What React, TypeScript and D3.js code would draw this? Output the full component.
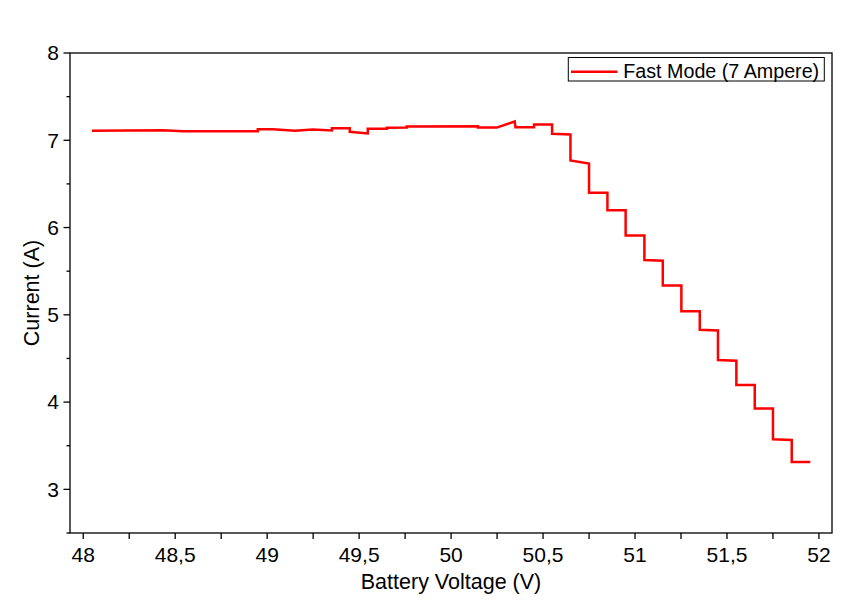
import React from "react";
import * as d3 from "d3";

const voltage = [
  48.047, 48.433, 48.542, 48.949, 48.949, 49.031, 49.151, 49.248, 49.352, 49.352,
  49.449, 49.449, 49.547, 49.547, 49.651, 49.651, 49.759, 49.759, 50.145, 50.145,
  50.248, 50.346, 50.350, 50.451, 50.451, 50.549, 50.549, 50.649, 50.649, 50.750,
  50.750, 50.850, 50.850, 50.949, 50.949, 51.051, 51.051, 51.151, 51.151, 51.252,
  51.252, 51.352, 51.352, 51.451, 51.451, 51.551, 51.551, 51.651, 51.651, 51.750,
  51.750, 51.852, 51.852, 51.953,
];
const current = [
  7.109, 7.116, 7.104, 7.104, 7.127, 7.127, 7.109, 7.124, 7.112, 7.139,
  7.139, 7.097, 7.078, 7.132, 7.132, 7.143, 7.147, 7.158, 7.161, 7.145,
  7.145, 7.215, 7.150, 7.150, 7.180, 7.180, 7.074, 7.066, 6.769, 6.734,
  6.399, 6.399, 6.199, 6.199, 5.909, 5.909, 5.627, 5.620, 5.337, 5.337,
  5.042, 5.042, 4.829, 4.821, 4.481, 4.474, 4.195, 4.195, 3.928, 3.928,
  3.573, 3.565, 3.313, 3.313,
];

const xTicks = [48, 48.25, 48.5, 48.75, 49, 49.25, 49.5, 49.75, 50, 50.25, 50.5, 50.75, 51, 51.25, 51.5, 51.75, 52];
const xLabels = [48, 48.5, 49, 49.5, 50, 50.5, 51, 51.5, 52];
const yMajor = [3, 4, 5, 6, 7, 8];
const yMinor = [2.5, 3.5, 4.5, 5.5, 6.5, 7.5];
const seriesName = "Fast Mode (7 Ampere)";
const xTitle = "Battery Voltage (V)";
const yTitle = "Current (A)";

const W = 858;
const H = 608;
const L = 70, R = 832, T = 53, B = 533;
const FONT = "'Liberation Sans', Arial, sans-serif";

export default function App() {
  const x = d3.scaleLinear().domain([47.928, 52.071]).range([L, R]);
  const y = d3.scaleLinear().domain([2.5, 8]).range([B, T]);
  const pts = voltage.map((v, i) => [v, current[i]] as [number, number]);
  const line = d3.line<[number, number]>().x((d) => x(d[0])).y((d) => y(d[1]));
  const fmt = (v: number) => String(v).replace(".", ",");

  return (
    <svg width={W} height={H} style={{ position: "absolute", left: 0, top: 0, background: "#fff" }} fontFamily={FONT}>
      <rect x={0} y={0} width={W} height={H} fill="#fff" />
      <path d={line(pts) || ""} fill="none" stroke="#ff0000" strokeWidth={2.5} strokeLinejoin="miter" />
      {/* frame */}
      <rect x={L} y={T} width={R - L} height={B - T} fill="none" stroke="#000" strokeWidth={1.3} />
      {/* x ticks */}
      {xTicks.map((t) => (
        <line key={"xt" + t} x1={x(t)} x2={x(t)} y1={B} y2={B + 6} stroke="#000" strokeWidth={1.3} />
      ))}
      {xLabels.map((t) => (
        <text key={"xl" + t} x={x(t)} y={561.5} textAnchor="middle" fontSize={21} fill="#000">
          {fmt(t)}
        </text>
      ))}
      {/* y ticks */}
      {yMajor.map((t) => (
        <line key={"ym" + t} x1={L - 6.5} x2={L} y1={y(t)} y2={y(t)} stroke="#000" strokeWidth={1.3} />
      ))}
      {yMinor.map((t) => (
        <line key={"yn" + t} x1={L - 3.5} x2={L} y1={y(t)} y2={y(t)} stroke="#000" strokeWidth={1.3} />
      ))}
      {yMajor.map((t) => (
        <text key={"yl" + t} x={59} y={y(t)} dy="0.35em" textAnchor="end" fontSize={21} fill="#000">
          {fmt(t)}
        </text>
      ))}
      {/* titles */}
      <text x={(L + R) / 2} y={588.5} textAnchor="middle" fontSize={21.5} fill="#000">
        {xTitle}
      </text>
      <text
        transform={`translate(39, ${(T + B) / 2}) rotate(-90)`}
        textAnchor="middle"
        fontSize={21.5}
        fill="#000"
      >
        {yTitle}
      </text>
      {/* legend */}
      <rect x={568.3} y={57.5} width={256} height={23.5} fill="#fff" stroke="#000" strokeWidth={1} />
      <line x1={571} x2={617.5} y1={71.7} y2={71.7} stroke="#ff0000" strokeWidth={2.5} />
      <text x={623.3} y={78.3} fontSize={19.7} fill="#000">
        {seriesName}
      </text>
    </svg>
  );
}
